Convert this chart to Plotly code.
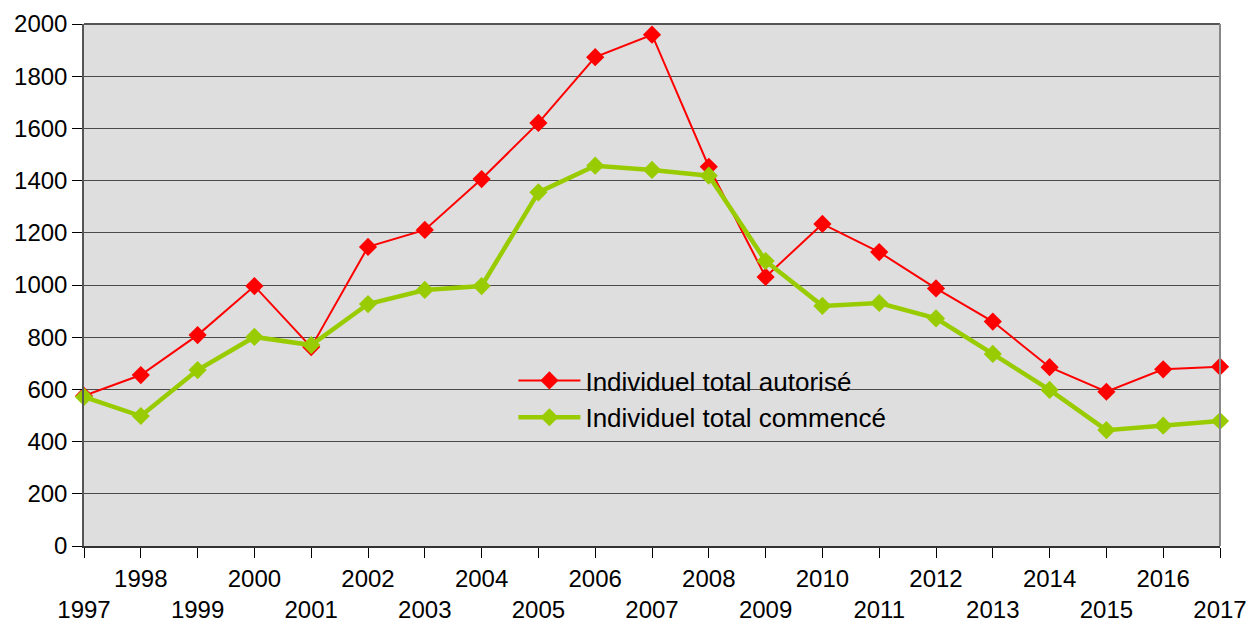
import plotly.graph_objects as go

years = list(range(1997, 2018))
autorise = [575, 655, 808, 996, 762, 1146, 1211, 1406, 1621, 1873, 1959, 1453,
            1031, 1234, 1126, 987, 860, 685, 591, 677, 687]
commence = [571, 498, 674, 801, 770, 927, 981, 996, 1355, 1457, 1441, 1419,
            1092, 920, 931, 872, 736, 598, 444, 461, 479]

# even years on the upper row, odd years pushed to the lower row
tick_text = [str(y) if y % 2 == 0 else "<br>" + str(y) for y in years]
y_ticks = list(range(0, 2001, 200))

FONT = "Liberation Sans, Arial, sans-serif"

fig = go.Figure()
fig.add_trace(go.Scatter(
    x=years, y=autorise, name="Individuel total autorisé",
    mode="lines+markers",
    line=dict(color="#ff0000", width=2),
    marker=dict(symbol="diamond", size=14, color="#ff0000"),
    cliponaxis=False,
))
fig.add_trace(go.Scatter(
    x=years, y=commence, name="Individuel total commencé",
    mode="lines+markers",
    line=dict(color="#99cc00", width=4.5),
    marker=dict(symbol="diamond", size=14, color="#99cc00"),
    cliponaxis=False,
))

fig.update_layout(
    width=1250, height=622,
    margin=dict(l=84, r=30, t=24, b=76),
    paper_bgcolor="white",
    plot_bgcolor="#dedede",
    font=dict(family=FONT, size=24, color="black"),
    hovermode=False,
    legend=dict(
        x=0.378, y=0.362, xanchor="left", yanchor="top",
        bgcolor="rgba(0,0,0,0)", borderwidth=0,
        font=dict(size=26), itemwidth=62, tracegroupgap=0,
    ),
    xaxis=dict(
        range=[1997, 2017], tickmode="array", tickvals=years, ticktext=tick_text,
        showgrid=False, zeroline=False, automargin=False,
        showline=True, linecolor="#333333", linewidth=1.5,
        ticks="outside", ticklen=10, tickcolor="black", tickwidth=1,
        tickfont=dict(size=24), tickangle=0,
    ),
    yaxis=dict(
        range=[0, 2000], tickmode="array", tickvals=y_ticks,
        showgrid=True, gridcolor="#4a4a4a", gridwidth=1,
        zeroline=False, automargin=False,
        showline=True, linecolor="#555555", linewidth=1.5,
        ticks="outside", ticklen=10, tickcolor="black", tickwidth=1,
        tickfont=dict(size=24),
    ),
    shapes=[
        dict(type="line", xref="paper", yref="paper", x0=1, x1=1, y0=0, y1=1,
             line=dict(color="#888888", width=2), layer="above"),
        dict(type="line", xref="paper", yref="paper", x0=0, x1=1, y0=1, y1=1,
             line=dict(color="#555555", width=2), layer="below"),
    ],
)

fig.write_html("out.html")
